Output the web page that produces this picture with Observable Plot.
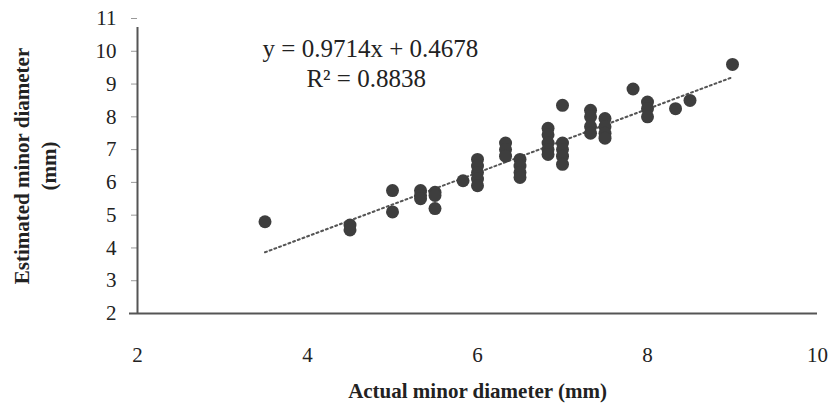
<!DOCTYPE html>
<html>
<head>
<meta charset="utf-8">
<script src="https://cdn.jsdelivr.net/npm/d3@7"></script>
<script src="https://cdn.jsdelivr.net/npm/@observablehq/plot@0.6"></script>
<style>
  html, body { margin: 0; padding: 0; background: #fff; }
  svg { display: block; }
</style>
</head>
<body>
<div id="chart"></div>
<script>
// Actual vs estimated minor diameter (mm)
const actual = [
  3.5,
  4.5, 4.5,
  5.0, 5.0,
  5.33, 5.33, 5.33,
  5.5, 5.5, 5.5,
  5.83,
  6.0, 6.0, 6.0, 6.0, 6.0,
  6.33, 6.33, 6.33,
  6.5, 6.5, 6.5, 6.5,
  6.83, 6.83, 6.83, 6.83, 6.83,
  7.0, 7.0, 7.0, 7.0, 7.0,
  7.33, 7.33, 7.33, 7.33,
  7.5, 7.5, 7.5, 7.5,
  7.83,
  8.0, 8.0, 8.0,
  8.33,
  8.5,
  9.0
];
const estimated = [
  4.8,
  4.7, 4.55,
  5.75, 5.1,
  5.75, 5.6, 5.5,
  5.7, 5.6, 5.2,
  6.05,
  6.7, 6.5, 6.3, 6.1, 5.9,
  7.2, 7.0, 6.8,
  6.7, 6.5, 6.3, 6.15,
  7.65, 7.45, 7.2, 7.0, 6.85,
  8.35, 7.2, 7.0, 6.8, 6.55,
  8.2, 8.0, 7.7, 7.5,
  7.95, 7.7, 7.5, 7.35,
  8.85,
  8.45, 8.25, 8.0,
  8.25,
  8.5,
  9.6
];
const slope = 0.9714;
const intercept = 0.4678;
const trendRange = [3.5, 9.0];
const equationLines = ["y = 0.9714x + 0.4678", "R² = 0.8838"];
const equationAt = [[4.74, 10.06], [4.69, 9.16]];
const xTicks = [2, 4, 6, 8, 10];
const yTicks = [2, 3, 4, 5, 6, 7, 8, 9, 10, 11];
const xLabel = "Actual minor diameter (mm)";
const yLabelLines = ["Estimated minor diameter", "(mm)"];

const points = actual.map((a, i) => ({a, e: estimated[i]}));
const trend = trendRange.map(x => ({x, y: slope * x + intercept}));
const eq = equationLines.map((t, i) => ({t, x: equationAt[i][0], y: equationAt[i][1]}));

const font = "'Liberation Serif', 'DejaVu Serif', serif";

const chart = Plot.plot({
  width: 832,
  height: 419,
  marginLeft: 137,
  marginRight: 15,
  marginTop: 18,
  marginBottom: 106,
  style: {fontFamily: font, fontSize: "21px", color: "#222", background: "#fff"},
  x: {domain: [2, 10]},
  y: {domain: [2, 11]},
  marks: [
    Plot.axisX({ticks: xTicks, tickSize: 0, tickPadding: 34, label: null, fontSize: 21, fill: "#222"}),
    Plot.axisY({ticks: yTicks, tickSize: 6, tickPadding: 15, label: null, fontSize: 21, fill: "#222", stroke: "#999"}),
    Plot.ruleY([2], {x1: 2, x2: 10, stroke: "#555", strokeWidth: 2, insetLeft: -8}),
    Plot.ruleX([2], {y1: 2, y2: 11, stroke: "#555", strokeWidth: 2, insetBottom: -9}),
    Plot.line(trend, {x: "x", y: "y", stroke: "#555", strokeWidth: 2, strokeDasharray: "2,3"}),
    Plot.dot(points, {x: "a", y: "e", r: 6.5, fill: "#3e3e3e", stroke: "none"}),
    Plot.text(eq, {x: "x", y: "y", text: "t", fontSize: 25, fill: "#222"}),
    Plot.text([xLabel], {frameAnchor: "bottom", dy: 84, fontSize: 21, fontWeight: "bold", fill: "#222"}),
    Plot.text([yLabelLines.join("\n")], {frameAnchor: "left", dx: -104, rotate: -90, textAnchor: "middle", lineAnchor: "middle", lineHeight: 1.3, fontSize: 21, fontWeight: "bold", fill: "#222"})
  ]
});
document.getElementById("chart").appendChild(chart);
</script>
</body>
</html>
